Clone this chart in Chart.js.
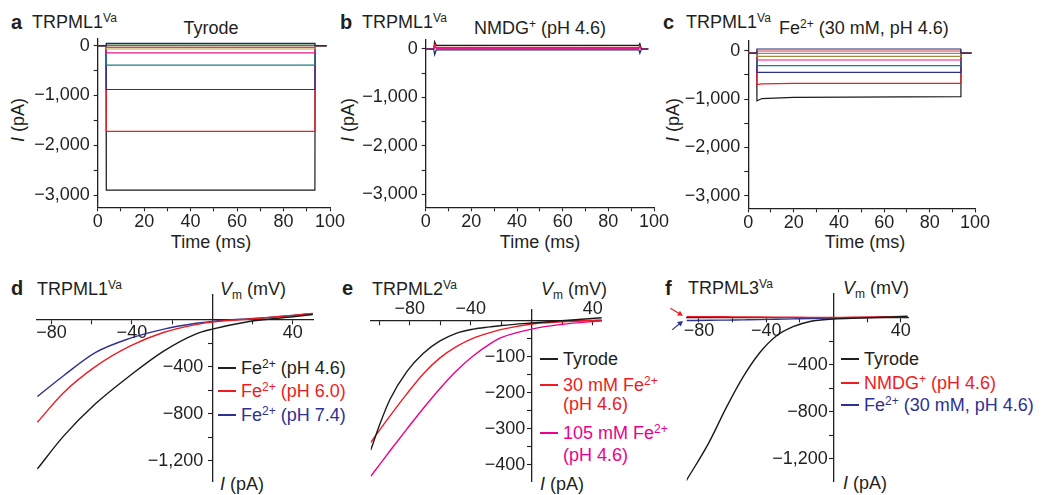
<!DOCTYPE html>
<html lang="en">
<head>
<meta charset="UTF-8">
<script src="https://cdn.jsdelivr.net/npm/chart.js"></script>
<title>TRPML Fe2+ currents</title>
<style>
  body { margin: 0; background: #fff; }
  #fig { position: relative; width: 1041px; height: 495px; overflow: hidden;
         font-family: "Liberation Sans", Arial, sans-serif; color: #231f20; }
  #fig canvas { position: absolute; }
  .t { position: absolute; font-size: 18px; line-height: 1; white-space: nowrap; transform: translateY(-50%); }
  .c { transform: translate(-50%, -50%); }
  .rot { transform: translate(-50%, -50%) rotate(-90deg); }
  .b { font-weight: bold; font-size: 20px; }
  .sup { font-size: 12px; position: relative; top: -6px; }
  .sub { font-size: 12px; position: relative; top: 4px; }
  .key { padding-left: 23px; }
  .key::before { content: ''; position: absolute; left: 0; top: 8px; width: 18px; height: 1.5px; background: currentColor; }
  .red { color: #ed1c24; } .blue { color: #2e3192; } .pink { color: #ec008c; }
</style>
</head>
<body>
<div id="fig">
  <!-- top row -->
  <div class="t b" style="left:11px;top:22px">a</div>
  <div class="t" style="left:32px;top:22px">TRPML1<span class="sup">Va</span></div>
  <div class="t c" style="left:211px;top:27.5px">Tyrode</div>
  <div class="t rot" style="left:18px;top:120px"><i>I</i> (pA)</div>
  <div class="t c" style="left:211px;top:241.5px">Time (ms)</div>

  <div class="t b" style="left:340px;top:22px">b</div>
  <div class="t" style="left:362px;top:22px">TRPML1<span class="sup">Va</span></div>
  <div class="t c" style="left:540px;top:27.5px">NMDG<span class="sup">+</span> (pH 4.6)</div>
  <div class="t rot" style="left:348px;top:120px"><i>I</i> (pA)</div>
  <div class="t c" style="left:540px;top:241.5px">Time (ms)</div>

  <div class="t b" style="left:663px;top:22px">c</div>
  <div class="t" style="left:686px;top:22px">TRPML1<span class="sup">Va</span></div>
  <div class="t" style="left:779px;top:28px">Fe<span class="sup">2+</span> (30 mM, pH 4.6)</div>
  <div class="t rot" style="left:673px;top:120px"><i>I</i> (pA)</div>
  <div class="t c" style="left:865px;top:241.5px">Time (ms)</div>

  <!-- bottom row -->
  <div class="t b" style="left:11px;top:288px">d</div>
  <div class="t" style="left:37px;top:288.5px">TRPML1<span class="sup">Va</span></div>
  <div class="t" style="left:220px;top:288.5px"><i>V</i><span class="sub">m</span> (mV)</div>
  <div class="t" style="left:220px;top:483.5px"><i>I</i> (pA)</div>
  <div class="t key" style="left:218px;top:368px">Fe<span class="sup">2+</span> (pH 4.6)</div>
  <div class="t key red" style="left:218px;top:391px">Fe<span class="sup">2+</span> (pH 6.0)</div>
  <div class="t key blue" style="left:218px;top:415px">Fe<span class="sup">2+</span> (pH 7.4)</div>

  <div class="t b" style="left:342px;top:288px">e</div>
  <div class="t" style="left:372px;top:288.5px">TRPML2<span class="sup">Va</span></div>
  <div class="t" style="left:541px;top:288.5px"><i>V</i><span class="sub">m</span> (mV)</div>
  <div class="t" style="left:540px;top:483.5px"><i>I</i> (pA)</div>
  <div class="t key" style="left:540px;top:359px">Tyrode</div>
  <div class="t key red" style="left:540px;top:385px">30 mM Fe<span class="sup">2+</span></div>
  <div class="t red" style="left:563px;top:404px">(pH 4.6)</div>
  <div class="t key pink" style="left:540px;top:433px">105 mM Fe<span class="sup">2+</span></div>
  <div class="t pink" style="left:563px;top:455px">(pH 4.6)</div>

  <div class="t b" style="left:665px;top:288px">f</div>
  <div class="t" style="left:688px;top:288px">TRPML3<span class="sup">Va</span></div>
  <div class="t" style="left:843px;top:288px"><i>V</i><span class="sub">m</span> (mV)</div>
  <div class="t" style="left:843px;top:483px"><i>I</i> (pA)</div>
  <div class="t key" style="left:841px;top:359px">Tyrode</div>
  <div class="t key red" style="left:841px;top:383px">NMDG<span class="sup">+</span> (pH 4.6)</div>
  <div class="t key blue" style="left:841px;top:405px">Fe<span class="sup">2+</span> (30 mM, pH 4.6)</div>
</div>

<script>
// ---------- a-c: whole-cell traces (time in ms, current in pA) ----------
const timeTicks = [0, 10, 20, 30, 40, 50, 60, 70, 80, 90, 100];
const timeLabels = [0, 20, 40, 60, 80, 100];
const currentTicks = [-3000, -2500, -2000, -1500, -1000, -500, 0];
const currentLabels = [-3000, -2000, -1000, 0];

const traceColors = ['#1f2a6b', '#2f7a3a', '#d43c3c', '#8c6d5a', '#c89b45',
                     '#e5198a', '#1b7d80', '#2e3192', '#e8202a', '#1a1a1a'];

// a, Tyrode
const aTimes = [0, 3.6, 3.7, 93.5, 93.6, 98.5];
const aTraces = [
  [0, 0, 48, 48, 0, 0],
  [0, 0, 34, 34, 0, 0],
  [0, 0, 0, 0, 0, 0],
  [0, 0, -33, -33, 0, 0],
  [0, 0, -66, -66, 0, 0],
  [0, 0, -145, -145, 0, 0],
  [0, 0, -390, -390, 0, 0],
  [0, 0, -880, -880, 0, 0],
  [0, 0, -1720, -1720, 0, 0],
  [0, 0, -2900, -2900, 0, 0]
];

// b, NMDG+ (pH 4.6)
const bTimes = [0, 3.5, 3.9, 4.6, 93.4, 93.8, 94.5, 97.5];
const bTraces = [
  [0, 0, -120, -20, -20, -90, 0, 0],
  [0, 0, 60, 10, 10, 40, 0, 0],
  [0, 0, 90, 35, 35, 60, 0, 0],
  [0, 0, 150, 75, 75, 110, 0, 0]
];
const bColors = ['#1f2a6b', '#e5198a', '#e8202a', '#1a1a1a'];

// c, Fe2+ (30 mM, pH 4.6)
const cTimes = [-1, 3.7, 3.8, 6, 20, 93.7, 93.8, 98.4];
const cTraces = [
  [-50, -50, 35, 35, 35, 35, -50, -50],
  [-50, -50, -6, -6, -6, -6, -50, -50],
  [-50, -50, -54, -54, -54, -54, -50, -50],
  [-50, -50, -116, -116, -116, -116, -50, -50],
  [-50, -50, -192, -192, -192, -192, -50, -50],
  [-50, -50, -310, -310, -310, -310, -50, -50],
  [-50, -50, -447, -447, -447, -447, -50, -50],
  [-50, -50, -700, -685, -678, -675, -50, -50],
  [-50, -50, -1038, -990, -965, -952, -50, -50]
];
const cColors = ['#1f2a6b', '#d43c3c', '#8a8a8a', '#a08c3c',
                 '#e5198a', '#1b7d80', '#2e3192', '#e8202a', '#1a1a1a'];

// ---------- d-f: I-V curves (Vm in mV, I in pA) ----------
const dV = [-87, -74, -58, -41, -24, -8, 0, 17, 25, 40, 50];
const dFePH46 = [-1267, -989, -712, -475, -264, -119, -79, -18, 0, 26, 45];
const dFePH60 = [-871, -620, -396, -224, -106, -40, -18, 5, 15, 38, 55];
const dFePH74 = [-652, -475, -277, -158, -79, -29, -13, 8, 16, 38, 53];

const eV = [-105.7, -99.6, -93, -82, -71.1, -60.2, -49.2, -38.3, -27.4, -19.7, 0, 19.7, 46];
const eTyrode = [-359, -286, -218, -141, -90, -56, -34, -23, -17, -13, -6, 0, 8.5];
const eFe30 = [-338, -302, -264, -203, -147, -103, -71, -48, -33, -24, -9, -3, 2.5];
const eFe105 = [-432, -398, -361, -301, -243, -188, -138, -97, -64, -46, -23, -10, 0];

const fV = [-88, -74, -64, -54, -44, -34, -24, -14, 0, 15.5, 44];
const fTyrode = [-1395, -1059, -771, -510, -301, -157, -78, -34, -13, -5, 8];
const fNmdg = [8, 7, 6, 5, 4, 3, 2, 1, 0, 3, 10];
const fFe30 = [-26, -24, -22, -20, -18, -15, -12, -9, -5, 0, 5];
const fArrows = [
  {from: [-97, 78], to: [-89.5, 14], color: '#ed1c24'},
  {from: [-96, -105], to: [-89.5, -30], color: '#2e3192'}
];

const ink = '#231f20';
const font = {family: '"Liberation Sans", Arial, sans-serif', size: 18};
const grid = {drawOnChartArea: false, drawTicks: true, tickLength: 4, tickColor: ink, tickWidth: 1.1};
const border = {display: true, color: ink, width: 1.3};

function fmt(v) {
  const s = Math.abs(v).toLocaleString('en-US');
  return v < 0 ? '\u2212' + s : s;
}

function makeCanvas(box) {
  const cv = document.createElement('canvas');
  cv.width = box.right - box.left;
  cv.height = box.bottom - box.top;
  cv.style.left = box.left + 'px';
  cv.style.top = box.top + 'px';
  cv.style.width = cv.width + 'px';
  cv.style.height = cv.height + 'px';
  document.getElementById('fig').appendChild(cv);
  return cv;
}

function fixedTicks(list) {
  return s => { s.ticks = list.map(v => ({value: v})); };
}

function traceChart(area, yMin, yMax, times, traces, colors) {
  const box = {left: Math.floor(area.L - 72), top: Math.floor(area.T - 20),
               right: Math.ceil(area.R + 26), bottom: Math.ceil(area.B + 34)};
  new Chart(makeCanvas(box), {
    type: 'line',
    data: {
      datasets: traces.map((ys, i) => ({
        data: ys.map((y, k) => ({x: times[k], y: y})),
        borderColor: colors[i], borderWidth: 1.2, pointRadius: 0, tension: 0
      }))
    },
    options: {
      responsive: false, animation: false, events: [],
      plugins: {legend: {display: false}, tooltip: {enabled: false}},
      layout: {padding: {left: 0, top: area.T - box.top, right: box.right - area.R, bottom: 0}},
      scales: {
        x: {
          type: 'linear', position: 'bottom', min: 0, max: 100,
          afterBuildTicks: fixedTicks(timeTicks),
          afterFit: s => { s.height = box.bottom - area.B; },
          ticks: {font: font, color: ink, padding: 0, autoSkip: false, maxRotation: 0, minRotation: 0,
                  callback: v => timeLabels.includes(v) ? fmt(v) : ''},
          grid: grid, border: border
        },
        y: {
          type: 'linear', position: 'left', min: yMin, max: yMax,
          afterBuildTicks: fixedTicks(currentTicks),
          afterFit: s => { s.width = area.L - box.left; },
          ticks: {font: font, color: ink, padding: 4, autoSkip: false,
                  callback: v => currentLabels.includes(v) ? fmt(v) : ''},
          grid: grid, border: border
        }
      }
    }
  });
}

const arrowPlugin = {
  id: 'arrows',
  afterDatasetsDraw(chart, args, opts) {
    const {ctx, scales: {x, y}} = chart;
    (opts.list || []).forEach(a => {
      const x0 = x.getPixelForValue(a.from[0]), y0 = y.getPixelForValue(a.from[1]);
      const x1 = x.getPixelForValue(a.to[0]), y1 = y.getPixelForValue(a.to[1]);
      const ang = Math.atan2(y1 - y0, x1 - x0);
      ctx.save();
      ctx.strokeStyle = ctx.fillStyle = a.color;
      ctx.lineWidth = 1.2;
      ctx.beginPath();
      ctx.moveTo(x0, y0);
      ctx.lineTo(x1 - 4 * Math.cos(ang), y1 - 4 * Math.sin(ang));
      ctx.stroke();
      ctx.beginPath();
      ctx.moveTo(x1, y1);
      ctx.lineTo(x1 - 6 * Math.cos(ang - 0.5), y1 - 6 * Math.sin(ang - 0.5));
      ctx.lineTo(x1 - 6 * Math.cos(ang + 0.5), y1 - 6 * Math.sin(ang + 0.5));
      ctx.closePath();
      ctx.fill();
      ctx.restore();
    });
  }
};

// a y axis placed at x = 0 puts its labels right on the line; push them left
function shiftLabels(gap) {
  return s => {
    if (s._labelShift) return;
    s._labelShift = true;
    const base = s._computeLabelItems;
    s._computeLabelItems = function (ca) {
      const items = base.call(this, ca);
      items.forEach(it => { it.options.translation[0] -= gap; });
      return items;
    };
  };
}

function ivChart(cfg) {
  const {area, box} = cfg;
  new Chart(makeCanvas(box), {
    type: 'line',
    data: {
      datasets: cfg.series.map((ys, i) => ({
        data: ys.map((y, k) => ({x: cfg.v[k], y: y})),
        borderColor: cfg.colors[i], borderWidth: 1.4, pointRadius: 0,
        cubicInterpolationMode: 'monotone'
      }))
    },
    plugins: [arrowPlugin],
    options: {
      responsive: false, animation: false, events: [],
      plugins: {legend: {display: false}, tooltip: {enabled: false}, arrows: {list: cfg.arrows || []}},
      layout: {padding: {left: area.L - box.left, top: area.T - box.top,
                         right: box.right - area.R, bottom: box.bottom - area.B}},
      scales: {
        x: {
          type: 'linear', position: {y: 0}, min: cfg.xr[0], max: cfg.xr[1],
          afterBuildTicks: fixedTicks(cfg.xTicks),
          ticks: {font: font, color: ink, padding: cfg.xPad, autoSkip: false, maxRotation: 0, minRotation: 0,
                  callback: v => cfg.xLabels.includes(v) ? fmt(v) : ''},
          grid: grid, border: border
        },
        y: {
          type: 'linear', position: {x: 0}, min: cfg.yr[0], max: cfg.yr[1],
          afterBuildTicks: fixedTicks(cfg.yTicks),
          afterFit: shiftLabels(cfg.yGap),
          ticks: {font: font, color: ink, autoSkip: false,
                  callback: v => cfg.yLabels.includes(v) ? fmt(v) : ''},
          grid: grid, border: border
        }
      }
    }
  });
}

traceChart({L: 97.7, R: 330, T: 38.3, B: 207.3}, -3247, 149, aTimes, aTraces, traceColors);
traceChart({L: 425.7, R: 654, T: 39.3, B: 207.3}, -3269, 200, bTimes, bTraces, bColors);
traceChart({L: 748.3, R: 975, T: 40.7, B: 208.3}, -3261, 207, cTimes, cTraces, cColors);

ivChart({
  area: {L: 36.8, R: 313.8, T: 295, B: 495}, box: {left: 0, right: 330, top: 280, bottom: 495},
  v: dV, series: [dFePH46, dFePH60, dFePH74], colors: ['#1a1a1a', '#ed1c24', '#2e3192'],
  xr: [-87.3, 50.5], yr: [-1372, 211],
  xTicks: [-80, -60, -40, -20, 0, 20, 40], xLabels: [-80, -40, 40], xPad: -1.5,
  yTicks: [-1200, -1000, -800, -600, -400, -200, 0], yLabels: [-1200, -800, -400], yGap: 9
});

ivChart({
  area: {L: 370.7, R: 601.8, T: 310, B: 495}, box: {left: 352, right: 620, top: 295, bottom: 495},
  v: eV, series: [eTyrode, eFe30, eFe105], colors: ['#1a1a1a', '#ed1c24', '#ec008c'],
  xr: [-105.7, 46], yr: [-445.5, 30],
  xTicks: [-100, -80, -60, -40, -20, 0, 20, 40], xLabels: [-80, -40, 40], xPad: -26.5,
  yTicks: [-400, -350, -300, -250, -200, -150, -100, -50, 0], yLabels: [-400, -300, -200, -100], yGap: 6.5
});

ivChart({
  area: {L: 686.7, R: 908.3, T: 292.7, B: 495}, box: {left: 660, right: 930, top: 280, bottom: 495},
  v: fV, series: [fTyrode, fNmdg, fFe30], colors: ['#1a1a1a', '#ed1c24', '#2e3192'],
  xr: [-87.3, 44.5], yr: [-1389, 201],
  xTicks: [-80, -60, -40, -20, 0, 20, 40], xLabels: [-80, -40, 40], xPad: -1.5,
  yTicks: [-1200, -1000, -800, -600, -400, -200, 0], yLabels: [-1200, -800, -400], yGap: 5.7,
  arrows: fArrows
});
</script>
</body>
</html>
